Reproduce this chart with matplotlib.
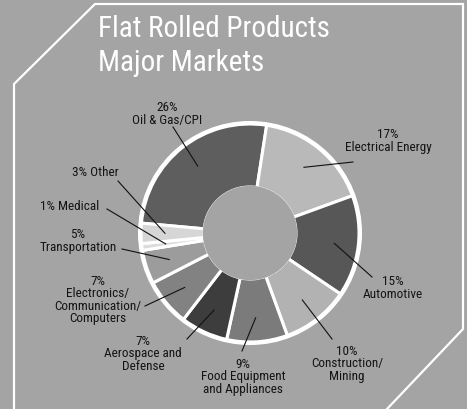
import numpy as np
import matplotlib.pyplot as plt
from matplotlib import font_manager
from matplotlib.patches import Circle

# narrowest sans available
installed = {f.name for f in font_manager.fontManager.ttflist}
for fam in ['Roboto Condensed', 'Liberation Sans Narrow', 'Open Sans Condensed', 'Roboto']:
    if fam in installed:
        break
plt.rcParams['font.family'] = [fam, 'DejaVu Sans']

# market share by segment, clockwise from the top-left
markets = ['Oil & Gas/CPI', 'Electrical Energy', 'Automotive', 'Construction/\nMining',
           'Food Equipment\nand Appliances', 'Aerospace and\nDefense',
           'Electronics/\nCommunication/\nComputers', 'Transportation', 'Medical', 'Other']
shares = [26, 17, 15, 10, 9, 7, 7, 5, 1, 3]
shades = ['#5e5e5e', '#b9b9b9', '#575757', '#b2b2b2', '#7b7b7b', '#3d3d3d',
          '#828282', '#9c9c9c', '#dcdcdc', '#d6d6d6']

# where each label sits (pixels from the top-left) and how it is written
label_pos = [(167, 114), (388, 141), (393, 288), (347, 364), (243, 377), (143, 354),
             (98, 300), (78, 241), (70, 207), (95, 173)]
inline = [False, False, False, False, False, False, False, False, True, True]
leader_ends = [(173, 128), (353, 163), (372, 278), (332, 340), (242, 352), (187, 340),
               (145, 307), (122, 250), (107, 210), (118, 182)]

W, H = 467, 410
bg = '#a4a4a4'
cx, cy = 250, H - 234
R, r_in = 109, 46

fig = plt.figure(figsize=(W / 100, H / 100), dpi=100)
fig.patch.set_facecolor(bg)
ax = fig.add_axes([0, 0, 1, 1])

# white frame with clipped corners
fx = [14, 14, 95, 463, 463, 387]
fy = [0, H - 85, H - 5, H - 5, H - 330, 0]
ax.plot(fx, fy, color='white', lw=1.6, solid_joinstyle='miter')

wedges, _ = ax.pie(shares, colors=shades, startangle=174.8, counterclock=False,
                   center=(cx, cy), radius=R, frame=True,
                   wedgeprops=dict(width=R - r_in, edgecolor='white', linewidth=2.2))
ax.set_xlim(0, W)
ax.set_ylim(0, H)
ax.set_aspect('equal')
ax.axis('off')

ax.add_patch(Circle((cx, cy), R + 1.5, fill=False, edgecolor='white', lw=2.2, zorder=3))
ax.add_patch(Circle((cx, cy), r_in + 1.2, facecolor=bg, edgecolor='none', zorder=3))

# labels with leader lines into each ring segment
for w, name, share, (lx, ly), one_line, (ex, ey) in zip(wedges, markets, shares, label_pos,
                                                         inline, leader_ends):
    mid = np.deg2rad((w.theta1 + w.theta2) / 2)
    px = cx + 0.78 * R * np.cos(mid)
    py = cy + 0.78 * R * np.sin(mid)
    text = f'{share}% {name}' if one_line else f'{share}%\n{name}'
    ax.text(lx, H - ly, text, ha='center', va='center', fontsize=9.5,
            color='#141414', linespacing=0.95, zorder=5)
    ax.plot([ex, px], [H - ey, py], color='#111111', lw=0.8, zorder=4)

ax.text(98, H - 29, 'Flat Rolled Products', color='white', fontsize=21,
        ha='left', va='center')
ax.text(98, H - 63, 'Major Markets', color='white', fontsize=21,
        ha='left', va='center')

fig.savefig('out.png', dpi=100, facecolor=bg)
